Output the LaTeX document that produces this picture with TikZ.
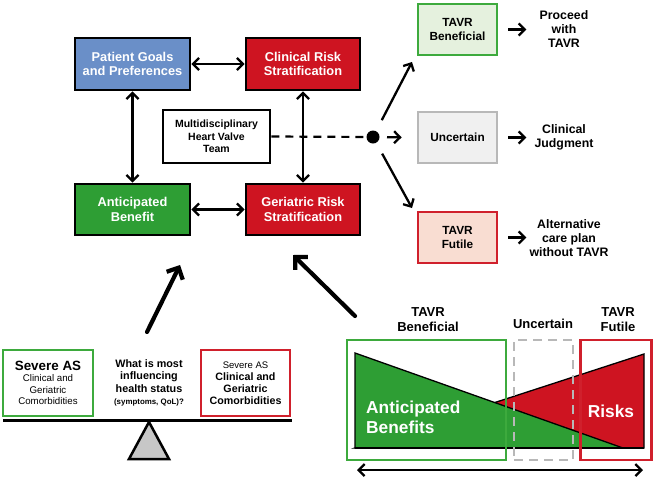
\documentclass[tikz,border=0pt]{standalone}
\usepackage{fontspec}
\setmainfont{Liberation Sans}
\usetikzlibrary{arrows.meta}
\definecolor{cblue}{HTML}{6A8FC8}
\definecolor{cred}{HTML}{CE1421}
\definecolor{cgreen}{HTML}{2E9E34}
\definecolor{lgreen}{HTML}{E5F1DE}
\definecolor{bgreen}{HTML}{3DAA3D}
\definecolor{lgray}{HTML}{F0F0F0}
\definecolor{bgray}{HTML}{B8B8B8}
\definecolor{lred}{HTML}{F9DDD2}
\definecolor{bred}{HTML}{D0202C}
\tikzset{
  mainbox/.style={draw=black, line width=2.8pt, minimum width=115pt, minimum height=52pt, align=center, font=\bfseries\fontsize{12.8}{14.5}\selectfont, text=white, inner sep=1pt},
  outbox/.style={line width=2.6pt, minimum width=79pt, minimum height=51pt, align=center, font=\bfseries\fontsize{11.8}{13.8}\selectfont, inner sep=1pt},
  outtext/.style={align=center, font=\bfseries\fontsize{12.3}{14.2}\selectfont},
  dbl/.style={{Straight Barb[length=6pt,width=12pt]}-{Straight Barb[length=6pt,width=12pt]}, line width=2.3pt},
  sarr/.style={-{Straight Barb[length=6pt,width=12pt]}, line width=2.3pt},
  bigarr/.style={-{Straight Barb[length=9pt,width=18pt]}, line width=4.2pt, line cap=round},
  toplabel/.style={align=center, font=\bfseries\fontsize{13}{15}\selectfont},
}
\begin{document}
\begin{tikzpicture}[x=1pt,y=-1pt]
\useasboundingbox (0,0) rectangle (655,480);
% main boxes
\node[mainbox, fill=cblue] (pg) at (132.5,64) {Patient Goals\\and Preferences};
\node[mainbox, fill=cred, minimum width=114pt] (cr) at (303,64) {Clinical Risk\\Stratification};
\node[mainbox, fill=cgreen, minimum height=51pt] (ab) at (132.5,209.5) {Anticipated\\Benefit};
\node[mainbox, fill=cred, minimum width=114pt, minimum height=51pt] (gr) at (303,209.5) {Geriatric Risk\\Stratification};
\draw[dbl] (pg.east) -- (cr.west);
\draw[dbl] (ab.east) -- (gr.west);
\draw[dbl] (pg.south) -- (ab.north);
\draw[dbl] (cr.south) -- (gr.north);
\node[draw=black, fill=white, line width=2.8pt, minimum width=107pt, minimum height=53pt, align=center, font=\bfseries\fontsize{10.5}{12.5}\selectfont, inner sep=1pt] (mh) at (216.5,136.5) {Multidisciplinary\\Heart Valve\\Team};
\node[circle, fill=black, minimum size=13pt, inner sep=0pt] (dot) at (373,137) {};
\draw[line width=2.2pt, dash pattern=on 8pt off 6pt] (mh.east) -- (dot);
% outcome boxes
\node[outbox, draw=bgreen, fill=lgreen] (tb) at (457.5,29.5) {TAVR\\Beneficial};
\node[outbox, draw=bgray, fill=lgray] (un) at (457.5,137.5) {Uncertain};
\node[outbox, draw=bred, fill=lred] (tf) at (457.5,237.5) {TAVR\\Futile};
\coordinate (tbarr) at (412,62);
\coordinate (tfarr) at (412,208);
\draw[sarr, shorten <=19pt] (dot.center) -- (tbarr);
\draw[sarr, shorten <=19pt] (dot.center) -- (tfarr);
\draw[sarr, shorten <=14pt, shorten >=15pt] (dot.center) -- (un.west);
\node[outtext] (o1) at (564,29) {Proceed\\with\\TAVR};
\node[outtext] (o2) at (564,137) {Clinical\\Judgment};
\node[outtext] (o3) at (569,238) {Alternative\\care plan\\without TAVR};
\draw[sarr] ([xshift=10pt]tb.east) -- ++(18,0);
\draw[sarr] ([xshift=10pt]un.east) -- ++(18,0);
\draw[sarr] ([xshift=10pt]tf.east) -- ++(18,0);
% big arrows
\coordinate (ba1s) at (147,332);
\coordinate (ba1e) at (180,265);
\coordinate (ba2s) at (355,316);
\coordinate (ba2e) at (293,255);
\draw[bigarr] (ba1s) -- (ba1e);
\draw[bigarr] (ba2s) -- (ba2e);
% seesaw
\node[draw=bgreen, line width=2.2pt, minimum width=90pt, minimum height=66pt, align=center, inner sep=1pt, font=\fontsize{9.7}{11.5}\selectfont] (sl) at (48,383) {{\bfseries\fontsize{13.4}{15}\selectfont Severe AS}\\Clinical and\\Geriatric\\Comorbidities};
\node[draw=bred, line width=2.2pt, minimum width=89pt, minimum height=66pt, align=center, inner sep=1pt, font=\bfseries\fontsize{10.7}{12}\selectfont] (sr) at (245.5,383) {{\mdseries\fontsize{9.5}{11}\selectfont Severe AS}\\Clinical and\\Geriatric\\Comorbidities};
\node[align=center, font=\bfseries\fontsize{10.8}{12.3}\selectfont, inner sep=0pt] (q) at (149,383) {What is most\\influencing\\health status\\{\fontsize{7.9}{9}\selectfont (symptoms, QoL)?}};
\coordinate (bl) at (3,420);
\coordinate (br) at (292,420);
\draw[line width=3pt] (bl) -- (br);
\draw[line width=2.5pt, fill=black!22, line join=miter] (149,422) -- (129,459) -- (169,459) -- cycle;
% bottom right chart
\draw[line width=1.3pt, fill=cred] (355,448) -- (644,354) -- (644,448) -- cycle;
\draw[line width=1.3pt, fill=cgreen] (355,353) -- (355,448) -- (623,448) -- cycle;
\draw[line width=1.3pt] (355,448) -- (644,448);
\node[anchor=west, align=left, text=white, font=\bfseries\fontsize{17.3}{20}\selectfont, inner sep=0pt] (antb) at (366,417) {Anticipated\\Benefits};
\node[text=white, font=\bfseries\fontsize{17.3}{20}\selectfont, inner sep=0pt] (risk) at (611,411) {Risks};
\node[draw=bgreen, line width=2.6pt, minimum width=159pt, minimum height=120pt, inner sep=0pt] (gbox) at (426.5,400) {};
\node[draw=bgray, line width=2.6pt, dash pattern=on 9pt off 6pt, minimum width=59pt, minimum height=120pt, inner sep=0pt] (ubox) at (543.5,400) {};
\node[draw=bred, line width=2.6pt, minimum width=71pt, minimum height=120pt, inner sep=0pt] (rbox) at (616,400) {};
\node[toplabel] (l1) at (428,320) {TAVR\\Beneficial};
\node[toplabel] (l2) at (543,324) {Uncertain};
\node[toplabel] (l3) at (618,320) {TAVR\\Futile};
\coordinate (ax1) at (357,470);
\coordinate (ax2) at (643,470);
\draw[dbl] (ax1) -- (ax2);
\end{tikzpicture}
\end{document}
